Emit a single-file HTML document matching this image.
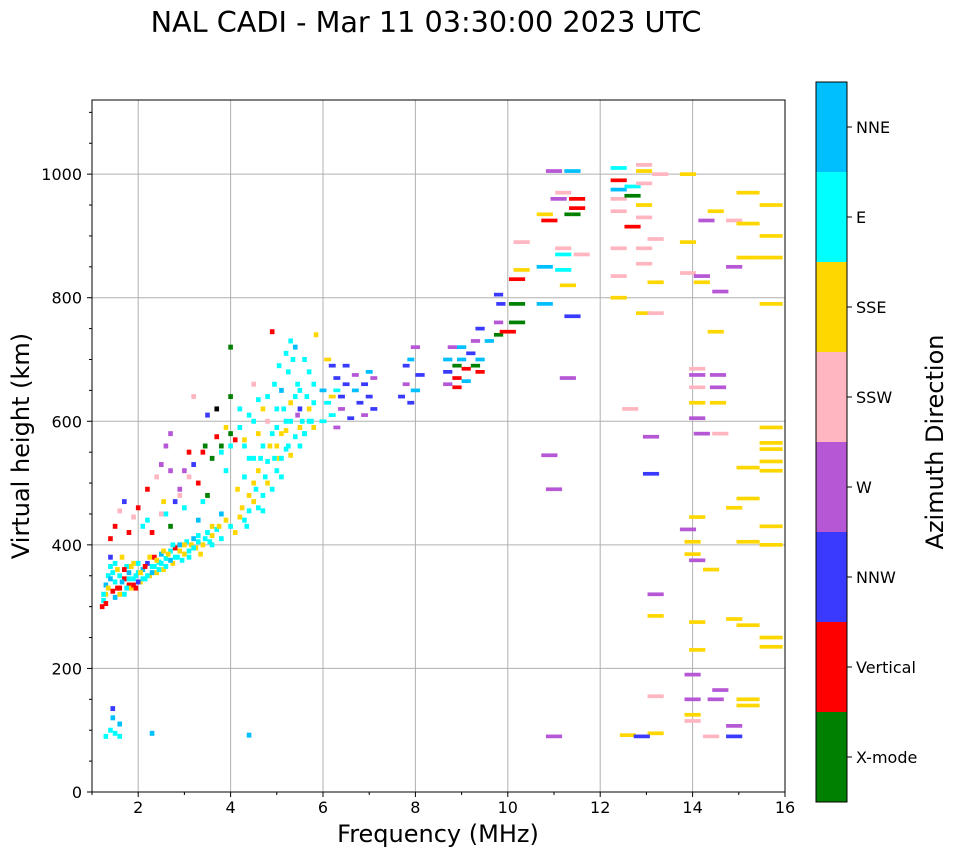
<!DOCTYPE html>
<html><head><meta charset="utf-8"><style>
body{margin:0;background:#fff;font-family:"DejaVu Sans",sans-serif}
</style></head><body>
<svg id="chart" width="958" height="857" xmlns="http://www.w3.org/2000/svg" font-family="DejaVu Sans, sans-serif">
<text x="426" y="32" font-size="28.7" text-anchor="middle">NAL CADI - Mar 11 03:30:00 2023 UTC</text>
<g id="grid"></g>
<g id="marks"></g>
<g id="axes"></g>
<text x="438" y="842" font-size="24" text-anchor="middle">Frequency (MHz)</text>
<text transform="translate(29,446) rotate(-90)" font-size="24" text-anchor="middle">Virtual height (km)</text>
<g id="cbar"></g>
<text transform="translate(943,442) rotate(-90)" font-size="24" text-anchor="middle">Azimuth Direction</text>
</svg>
<script>
const categories=["X-mode","Vertical","NNW","W","SSW","SSE","E","NNE"];
const catColors=["#008000","#ff0000","#3a3aff","#b657d6","#ffb6c1","#ffd700","#00ffff","#00bfff"];
const xTicks=[2,4,6,8,10,12,14,16];
const yTicks=[0,200,400,600,800,1000];
const freqs=[1.22,1.25,1.3,1.3,1.35,1.4,1.4,1.45,1.5,1.5,1.55,1.6,1.6,1.65,1.7,1.7,1.75,1.8,1.8,1.85,1.9,1.9,1.95,2.0,2.05,2.1,2.15,2.2,2.25,2.3,2.35,2.4,2.45,2.5,2.55,2.6,2.7,2.75,2.8,2.85,2.9,3.0,3.05,3.1,3.2,3.25,3.3,3.4,3.5,3.55,3.7,3.9,4.0,4.1,4.2,4.3,4.4,4.5,4.6,4.7,4.8,4.9,5.0,5.05,5.1,5.2,5.3,5.4,5.5,5.5,5.6,5.7,5.8,
1.4,1.5,1.6,1.7,1.9,2.0,2.2,2.3,2.4,2.5,2.6,2.7,2.6,2.7,2.8,2.9,3.0,3.1,3.2,3.3,3.4,3.3,3.5,3.6,3.7,3.8,3.9,4.0,4.0,4.0,3.5,3.2,3.4,3.6,3.8,
4.2,4.3,4.4,4.5,4.6,4.6,4.7,4.8,4.9,5.0,5.0,5.1,5.2,5.25,5.3,5.35,5.4,5.45,5.5,5.6,5.7,5.8,5.85,4.9,4.5,4.1,4.3,4.15,4.5,4.7,4.8,5.1,5.2,5.5,5.6,5.75,
6.1,6.2,6.3,6.3,6.4,6.4,6.5,6.5,6.6,6.7,6.7,6.8,6.9,6.9,7.0,7.0,7.1,7.1,6.2,6.3,6.2,6.1,6.0,6.0,
7.7,7.8,7.8,7.9,8.0,7.9,8.0,8.1,
8.7,8.7,8.7,8.8,8.9,8.9,8.9,9.0,9.0,9.1,9.1,9.2,9.3,9.3,9.4,9.4,9.4,9.6,9.8,9.8,9.85,9.8,10.0,10.2,10.2,10.2,10.3,10.3,
10.8,10.8,10.9,11.0,10.8,11.2,11.2,11.3,11.1,11.2,11.4,11.4,11.5,11.5,11.6,11.4,11.3,11.2,10.9,11.0,11.0,
12.4,12.4,12.4,12.4,12.4,12.4,12.4,12.4,12.7,12.7,12.7,12.65,12.95,12.95,12.95,12.95,12.95,12.95,12.95,12.95,13.3,13.2,13.2,13.2,13.1,13.1,13.2,13.2,13.2,13.2,12.6,12.9,
13.9,13.9,13.9,14.2,14.2,14.1,14.1,14.1,14.1,14.1,14.2,13.9,14.0,14.0,14.1,14.1,14.1,14.1,14.0,14.0,14.0,14.0,14.5,14.3,14.6,14.5,14.55,14.55,14.55,14.6,14.4,14.6,14.5,14.4,14.9,14.9,14.9,14.9,14.9,14.9,15.2,15.2,15.2,15.2,15.2,15.2,15.2,15.2,15.2,15.7,15.7,15.7,15.7,15.7,15.7,15.7,15.7,15.7,15.7,15.7,15.7,15.7,
1.3,1.4,1.45,1.45,1.5,1.6,1.6,2.3,4.4,
1.25,1.3,1.35,1.4,1.45,1.5,1.55,1.6,1.65,1.7,1.75,1.8,1.85,1.9,1.95,2.0,2.0,2.05,2.1,2.15,2.2,2.25,2.3,2.35,2.4,2.45,2.5,2.55,2.6,2.65,2.7,2.75,2.8,2.9,2.95,3.0,3.1,3.15,3.2,3.3,3.35,3.45,3.6,3.6,3.75,3.8,
4.25,4.35,4.4,4.55,4.65,4.75,4.85,4.95,5.0,5.1,5.15,5.25,5.3,5.4,5.45,5.55,5.65,5.7,5.8,4.5,4.7,4.8,4.95,5.05,5.2,5.3,4.4,4.6,4.3,4.2,4.0,3.9,3.8,
1.8,2.1,2.2,2.5,2.9,3.0,3.1,2.7,2.55,3.45,3.7];
const heights=[300,310,320,335,350,365,380,325,340,315,360,330,350,380,320,345,365,335,355,330,345,370,330,355,340,360,345,370,350,365,380,355,372,385,360,378,390,370,395,380,400,385,405,390,410,395,415,400,420,405,425,440,430,420,445,440,455,470,460,480,500,490,520,540,510,555,545,575,560,590,580,600,590,
410,430,455,470,445,460,490,420,510,530,560,580,450,430,470,490,460,510,530,500,550,440,480,540,575,560,520,580,640,720,610,640,470,430,450,
590,570,610,540,520,635,560,600,580,620,560,650,600,680,630,700,720,610,650,700,620,660,740,745,660,570,510,490,500,455,535,540,585,620,580,600,
700,690,670,650,640,620,660,690,605,650,675,630,610,660,680,640,620,670,610,590,640,630,600,650,
640,660,690,700,650,630,720,675,
660,680,700,720,690,670,655,700,720,685,665,710,690,730,680,700,750,730,740,760,790,805,745,760,790,830,845,890,
850,935,925,1005,790,845,870,820,960,970,1005,935,945,960,870,770,670,880,545,490,90,
1010,990,975,960,940,880,835,800,980,965,915,620,1005,985,950,930,880,855,775,1015,1000,895,825,775,575,515,320,285,155,95,92,90,
1000,890,840,835,825,685,675,655,630,605,580,425,385,405,445,375,275,230,190,150,125,115,940,925,810,745,675,655,630,580,360,165,150,90,925,850,460,280,107,90,970,920,865,525,475,405,270,150,140,950,900,865,790,590,565,555,520,535,430,400,250,235,
90,100,120,135,95,110,90,95,92,
320,305,330,345,355,370,330,320,340,360,330,345,365,335,350,340,370,355,345,365,350,380,355,365,375,360,370,390,365,385,375,400,380,390,375,400,380,400,395,405,385,410,415,400,430,410,
460,430,480,490,540,510,560,540,590,580,620,560,600,640,660,600,640,680,630,600,620,640,660,690,710,730,540,580,560,620,560,590,550,
420,430,440,450,480,520,550,520,470,560,620];
const dirs=[1,6,5,7,6,6,2,1,6,7,5,1,6,5,6,1,6,1,7,5,6,5,1,6,5,7,6,2,5,6,1,5,6,7,5,6,6,5,1,6,7,5,6,6,7,5,6,5,6,6,6,5,6,5,5,6,6,5,6,6,5,6,6,5,6,6,5,6,6,5,6,6,5,
1,1,4,2,4,1,1,1,4,3,3,3,6,0,2,3,6,4,2,1,1,7,0,0,1,0,6,0,0,0,2,4,6,5,7,
6,5,6,6,5,6,6,4,6,6,5,7,6,6,5,6,7,3,6,6,5,6,5,1,4,1,6,5,5,6,6,6,5,2,6,6,
5,2,2,6,2,3,2,2,2,7,3,2,3,2,7,2,2,3,6,3,5,6,6,7,
2,3,2,7,7,2,3,2,
3,2,7,3,0,1,1,7,7,1,7,2,0,3,1,7,2,7,0,3,2,2,1,0,0,1,5,4,
7,5,1,3,7,6,6,5,3,4,7,0,1,1,4,2,3,4,3,3,3,
6,1,7,4,4,4,4,5,6,0,1,4,5,4,5,4,4,4,5,4,4,4,5,4,3,2,3,5,4,5,5,2,
5,5,4,3,5,4,3,4,5,3,3,3,5,5,5,3,5,5,3,3,5,4,5,3,3,5,3,3,5,4,5,3,3,4,4,3,5,5,3,2,5,5,5,5,5,5,5,5,5,5,5,5,5,5,5,5,5,5,5,5,5,
5,6,6,7,2,6,7,6,7,
7,6,1,5,7,6,6,1,5,7,1,6,6,5,1,6,2,6,5,6,1,6,5,7,6,5,6,6,5,6,5,7,6,6,5,6,5,6,5,6,6,5,6,5,6,5,
6,5,6,5,6,6,6,5,6,6,5,6,6,6,6,6,6,6,6,6,6,5,6,6,6,6,6,6,5,6,6,6,5,
6,1,6,6,4,4,3,1,3,5,0];
const X0=92,X1=785,Y0=792,Y1=100;
const xScale=f=>X0+(f-1)*(X1-X0)/15;
const yScale=h=>Y0-h*(Y0-Y1)/1120;
const NS="http://www.w3.org/2000/svg";
function mk(tag,attrs,parent){const e=document.createElementNS(NS,tag);for(const k in attrs)e.setAttribute(k,attrs[k]);parent.appendChild(e);return e;}
const grid=document.getElementById('grid'),axes=document.getElementById('axes'),marks=document.getElementById('marks'),cbar=document.getElementById('cbar');
xTicks.forEach(t=>{const x=xScale(t);
 if(t<16)mk('line',{x1:x,x2:x,y1:Y1,y2:Y0,stroke:'#b0b0b0','stroke-width':1},grid);
 mk('line',{x1:x,x2:x,y1:Y0,y2:Y0+5,stroke:'#000'},axes);
 const tx=mk('text',{x:x,y:Y0+21,'font-size':16,'text-anchor':'middle'},axes);tx.textContent=t;
 
 });
for(let f=1;f<=16;f++){if(f%2){const x=xScale(f);mk('line',{x1:x,x2:x,y1:Y0,y2:Y0+3,stroke:'#000'},axes);}}
yTicks.forEach(t=>{const y=yScale(t);
 if(t>0)mk('line',{x1:X0,x2:X1,y1:y,y2:y,stroke:'#b0b0b0','stroke-width':1},grid);
 mk('line',{x1:X0-5,x2:X0,y1:y,y2:y,stroke:'#000'},axes);
 const tx=mk('text',{x:X0-10,y:y+6,'font-size':16,'text-anchor':'end'},axes);tx.textContent=t;
 
 });
for(let h=0;h<=1100;h+=50){if(h%200){const y=yScale(h);mk('line',{x1:X0-3,x2:X0,y1:y,y2:y,stroke:'#000'},axes);}}
freqs.forEach((f,i)=>{
 const w=f<6?0.1:f<8?0.15:f<10?0.2:f<15?0.35:0.5;
 const hh=f<6?4:3;
 const x=xScale(f-w/2),x2=xScale(f+w/2),y=yScale(heights[i]+hh),y2=yScale(heights[i]-hh);
 const r=mk('rect',{x:x,y:y,width:x2-x,height:y2-y,fill:catColors[dirs[i]]},marks);
 
 
});
mk('rect',{x:X0,y:Y1,width:X1-X0,height:Y0-Y1,fill:'none',stroke:'#000','stroke-width':1},axes);
const CB0=802,CBH=90;
categories.forEach((c,i)=>{const y=CB0-(i+1)*CBH;
 const r=mk('rect',{x:816,y:y,width:31,height:CBH,fill:catColors[i]},cbar);
 
 
 mk('line',{x1:847,x2:852,y1:y+CBH/2,y2:y+CBH/2,stroke:'#000'},cbar);
 const t=mk('text',{x:856,y:y+CBH/2+6,'font-size':16},cbar);t.textContent=c;
 
 });
mk('rect',{x:816,y:82,width:31,height:720,fill:'none',stroke:'#000'},cbar);
</script>
</body></html>
